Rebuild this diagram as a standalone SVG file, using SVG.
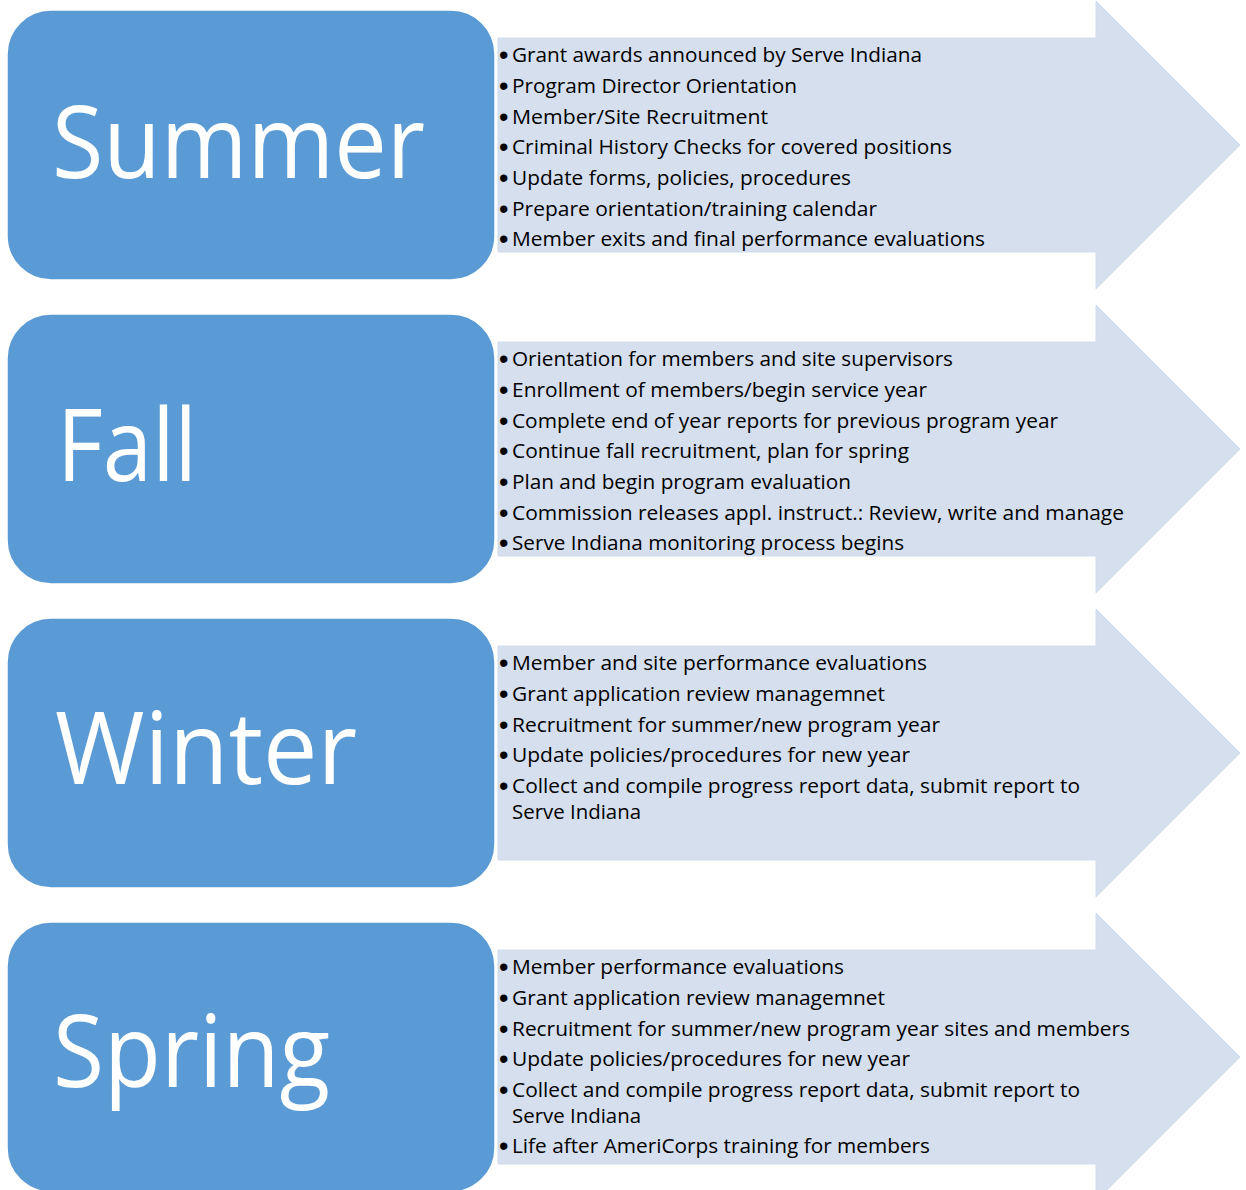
<svg xmlns="http://www.w3.org/2000/svg" width="1246" height="1190" viewBox="0 0 1246 1190">
<defs>
<style>
.box{fill:#5B9BD5;stroke:#FFFFFF;stroke-width:1.5}
.arrow{fill:#D5DFEE;stroke:#D0DCEC;stroke-width:1}
.big{font-family:"Open Sans","Noto Sans",sans-serif;font-size:100px;fill:#FFFFFF}
.item{font-family:"Open Sans","Noto Sans",sans-serif;font-size:19.5px;fill:#000000}
.dot{font-family:"Liberation Sans",Arial,sans-serif;font-size:27px;fill:#000000}
</style>
</defs>
<rect width="1246" height="1190" fill="#FFFFFF"/>
<g id="connectors"></g>

<g id="summer">
<path class="arrow" d="M498,38 H1096 V1 L1240,145 L1096,289 V252 H498 Z"/>
<rect class="box" x="7" y="10" width="488" height="270" rx="44" ry="44"/>
<text class="big" x="52" y="178" textLength="373" lengthAdjust="spacingAndGlyphs">Summer</text>
<g class="dot">
<text x="499" y="64">•</text><text x="499" y="95">•</text><text x="499" y="126">•</text><text x="499" y="156">•</text><text x="499" y="187">•</text><text x="499" y="218">•</text><text x="499" y="248">•</text>
</g>
<g class="item">
<text x="512" y="62" textLength="410" lengthAdjust="spacingAndGlyphs">Grant awards announced by Serve Indiana</text>
<text x="512" y="93" textLength="285" lengthAdjust="spacingAndGlyphs">Program Director Orientation</text>
<text x="512" y="124" textLength="256" lengthAdjust="spacingAndGlyphs">Member/Site Recruitment</text>
<text x="512" y="154" textLength="440" lengthAdjust="spacingAndGlyphs">Criminal History Checks for covered positions</text>
<text x="512" y="185" textLength="339" lengthAdjust="spacingAndGlyphs">Update forms, policies, procedures</text>
<text x="512" y="216" textLength="365" lengthAdjust="spacingAndGlyphs">Prepare orientation/training calendar</text>
<text x="512" y="246" textLength="473" lengthAdjust="spacingAndGlyphs">Member exits and final performance evaluations</text>
</g>
</g>

<g id="fall">
<path class="arrow" d="M498,342 H1096 V305 L1240,449 L1096,593 V556 H498 Z"/>
<rect class="box" x="7" y="314" width="488" height="270" rx="44" ry="44"/>
<text class="big" x="57" y="481" textLength="140" lengthAdjust="spacingAndGlyphs">Fall</text>
<g class="dot">
<text x="499" y="368">•</text><text x="499" y="399">•</text><text x="499" y="430">•</text><text x="499" y="460">•</text><text x="499" y="491">•</text><text x="499" y="522">•</text><text x="499" y="552">•</text>
</g>
<g class="item">
<text x="512" y="366" textLength="441" lengthAdjust="spacingAndGlyphs">Orientation for members and site supervisors</text>
<text x="512" y="397" textLength="415" lengthAdjust="spacingAndGlyphs">Enrollment of members/begin service year</text>
<text x="512" y="428" textLength="546" lengthAdjust="spacingAndGlyphs">Complete end of year reports for previous program year</text>
<text x="512" y="458" textLength="397" lengthAdjust="spacingAndGlyphs">Continue fall recruitment, plan for spring</text>
<text x="512" y="489" textLength="339" lengthAdjust="spacingAndGlyphs">Plan and begin program evaluation</text>
<text x="512" y="520" textLength="612" lengthAdjust="spacingAndGlyphs">Commission releases appl. instruct.: Review, write and manage</text>
<text x="512" y="550" textLength="392" lengthAdjust="spacingAndGlyphs">Serve Indiana monitoring process begins</text>
</g>
</g>

<g id="winter">
<path class="arrow" d="M498,646 H1096 V609 L1240,753 L1096,897 V860 H498 Z"/>
<rect class="box" x="7" y="618" width="488" height="270" rx="44" ry="44"/>
<text class="big" x="55" y="784" textLength="302" lengthAdjust="spacingAndGlyphs">Winter</text>
<g class="dot">
<text x="499" y="672">•</text><text x="499" y="703">•</text><text x="499" y="734">•</text><text x="499" y="764">•</text><text x="499" y="795">•</text>
</g>
<g class="item">
<text x="512" y="670" textLength="415" lengthAdjust="spacingAndGlyphs">Member and site performance evaluations</text>
<text x="512" y="701" textLength="373" lengthAdjust="spacingAndGlyphs">Grant application review managemnet</text>
<text x="512" y="732" textLength="428" lengthAdjust="spacingAndGlyphs">Recruitment for summer/new program year</text>
<text x="512" y="762" textLength="398" lengthAdjust="spacingAndGlyphs">Update policies/procedures for new year</text>
<text x="512" y="793" textLength="568" lengthAdjust="spacingAndGlyphs">Collect and compile progress report data, submit report to</text>
<text x="512" y="819" textLength="129" lengthAdjust="spacingAndGlyphs">Serve Indiana</text>
</g>
</g>

<g id="spring">
<path class="arrow" d="M498,950 H1096 V913 L1240,1057 L1096,1201 V1164 H498 Z"/>
<rect class="box" x="7" y="922" width="488" height="270" rx="44" ry="44"/>
<text class="big" x="53" y="1087" textLength="277" lengthAdjust="spacingAndGlyphs">Spring</text>
<g class="dot">
<text x="499" y="976">•</text><text x="499" y="1007">•</text><text x="499" y="1038">•</text><text x="499" y="1068">•</text><text x="499" y="1099">•</text><text x="499" y="1155">•</text>
</g>
<g class="item">
<text x="512" y="974" textLength="332" lengthAdjust="spacingAndGlyphs">Member performance evaluations</text>
<text x="512" y="1005" textLength="373" lengthAdjust="spacingAndGlyphs">Grant application review managemnet</text>
<text x="512" y="1036" textLength="618" lengthAdjust="spacingAndGlyphs">Recruitment for summer/new program year sites and members</text>
<text x="512" y="1066" textLength="398" lengthAdjust="spacingAndGlyphs">Update policies/procedures for new year</text>
<text x="512" y="1097" textLength="568" lengthAdjust="spacingAndGlyphs">Collect and compile progress report data, submit report to</text>
<text x="512" y="1123" textLength="129" lengthAdjust="spacingAndGlyphs">Serve Indiana</text>
<text x="512" y="1153" textLength="418" lengthAdjust="spacingAndGlyphs">Life after AmeriCorps training for members</text>
</g>
</g>
</svg>
